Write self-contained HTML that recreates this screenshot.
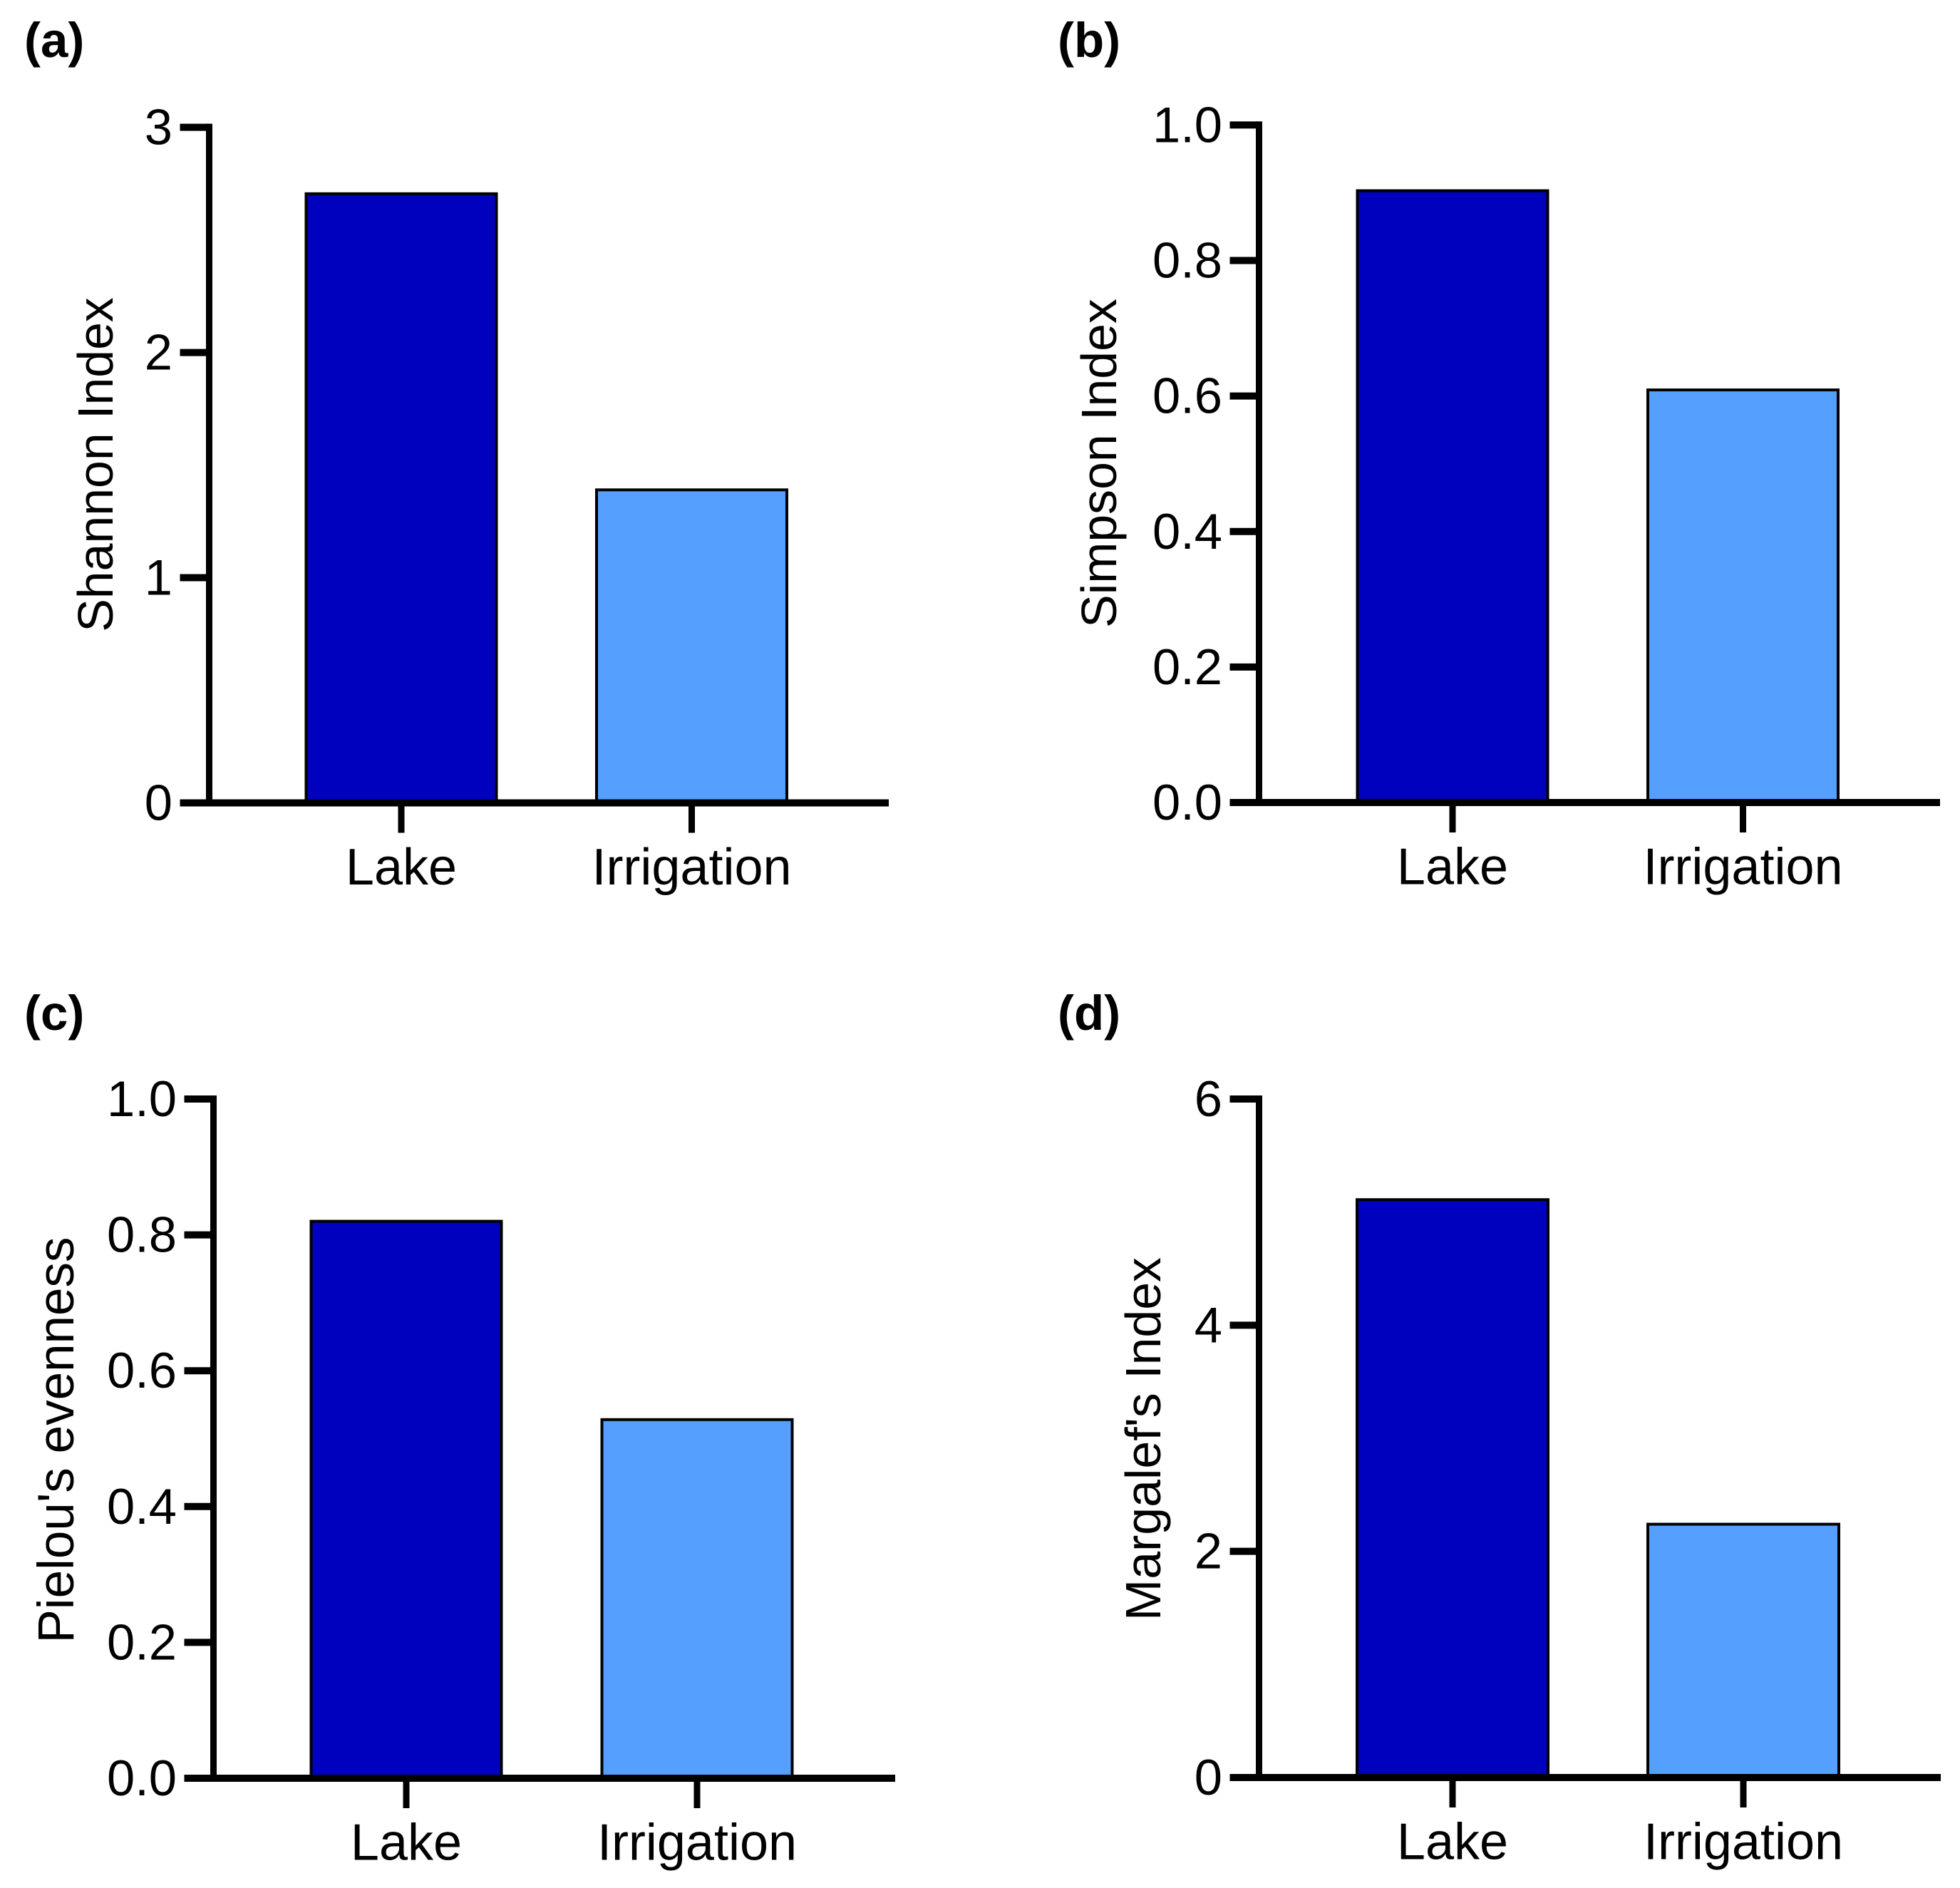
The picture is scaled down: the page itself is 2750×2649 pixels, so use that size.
<!DOCTYPE html>
<html lang="en">
<head>
<meta charset="utf-8">
<title>Diversity indices: Lake vs Irrigation</title>
<style>
html,body{margin:0;padding:0;background:#fff;}
svg{display:block;}
text{font-family:"Liberation Sans",Arial,sans-serif;fill:#000;}
.tick{font-size:70.5px;}
.cat{font-size:72px;}
.title{font-size:69.8px;text-anchor:middle;}
.panel{font-size:69px;font-weight:bold;}
</style>
</head>
<body>
<svg id="figure" xmlns="http://www.w3.org/2000/svg" width="2750" height="2649" viewBox="0 0 2750 2649">
  <rect x="0" y="0" width="2750" height="2649" fill="#ffffff"/>
  <g id="panel-a">
    <text class="panel" x="34" y="80">(a)</text>
    <text class="title" transform="translate(158 652) rotate(-90)">Shannon Index</text>
  </g>
  <g id="panel-b">
    <text class="panel" x="1484" y="80">(b)</text>
    <text class="title" transform="translate(1566 650) rotate(-90)">Simpson Index</text>
  </g>
  <g id="panel-c">
    <text class="panel" x="34" y="1445">(c)</text>
    <text class="title" style="font-size:71px" transform="translate(103 2020.5) rotate(-90)">Pielou's evenness</text>
  </g>
  <g id="panel-d">
    <text class="panel" x="1484" y="1445">(d)</text>
    <text class="title" transform="translate(1628 2019) rotate(-90)">Margalef's Index</text>
  </g>
</svg>
<script>
// Chart data
const categories = ['Lake', 'Irrigation'];
const shannonValues = [2.705, 1.39];
const simpsonValues = [0.903, 0.609];
const pielouValues = [0.82, 0.528];
const margalefValues = [5.11, 2.24];
const shannonTicks = ['0', '1', '2', '3'];
const simpsonTicks = ['0.0', '0.2', '0.4', '0.6', '0.8', '1.0'];
const pielouTicks = ['0.0', '0.2', '0.4', '0.6', '0.8', '1.0'];
const margalefTicks = ['0', '2', '4', '6'];
const barColors = ['#0000BF', '#559FFF'];

const NS = 'http://www.w3.org/2000/svg';

function shape(kind, parent, props) {
  const node = document.createElementNS(NS, kind);
  for (const key in props) node.setAttribute(key, props[key]);
  parent.appendChild(node);
  return node;
}

function drawPanel(id, values, ticks, frame) {
  const parent = document.getElementById(id);
  const tickValues = ticks.map(Number);
  const maxValue = tickValues[tickValues.length - 1];
  const yScale = function (v) {
    return frame.base - (v / maxValue) * (frame.base - frame.top);
  };
  const xScale = function (i) {
    return frame.firstCenter + i * frame.step;
  };

  // Bars
  values.forEach(function (value, i) {
    const y = yScale(value);
    const bar = shape('rect', parent, {
      x: xScale(i) - frame.barWidth / 2,
      y: y,
      width: frame.barWidth,
      height: frame.base - y,
      fill: barColors[i],
      stroke: '#000',
      'stroke-width': 4
    });
    
    
  });

  // Y axis line
  const yAxis = shape('line', parent, {
    x1: frame.axisX, x2: frame.axisX,
    y1: frame.top - 5, y2: frame.base,
    stroke: '#000', 'stroke-width': 9
  });
  
  

  // X axis line
  const xAxis = shape('line', parent, {
    x1: frame.axisX - 41, x2: frame.right,
    y1: frame.base, y2: frame.base,
    stroke: '#000', 'stroke-width': 10
  });
  
  

  // Y ticks and labels
  ticks.forEach(function (label, i) {
    const y = yScale(tickValues[i]);
    const mark = shape('line', parent, {
      x1: frame.axisX - 41, x2: frame.axisX,
      y1: y, y2: y,
      stroke: '#000', 'stroke-width': 10
    });
    
    
    const text = shape('text', parent, {
      class: 'tick',
      x: frame.axisX - 51.5,
      y: y + 24,
      'text-anchor': 'end'
    });
    
    
    text.textContent = label;
  });

  // X ticks and labels
  categories.forEach(function (label, i) {
    const x = xScale(i);
    const mark = shape('line', parent, {
      x1: x, x2: x,
      y1: frame.base, y2: frame.base + 42,
      stroke: '#000', 'stroke-width': 9
    });
    
    
    const text = shape('text', parent, {
      class: 'cat',
      x: x,
      y: frame.base + 114.5,
      'text-anchor': 'middle'
    });
    
    
    text.textContent = label;
  });
}

drawPanel('panel-a', shannonValues, shannonTicks,
  {axisX: 293.5, top: 178.6, base: 1126.5, right: 1247, firstCenter: 563, step: 407.5, barWidth: 267});
drawPanel('panel-b', simpsonValues, simpsonTicks,
  {axisX: 1766.5, top: 175.4, base: 1126, right: 2722, firstCenter: 2038, step: 407.5, barWidth: 267});
drawPanel('panel-c', pielouValues, pielouTicks,
  {axisX: 299.5, top: 1542, base: 2495, right: 1256, firstCenter: 570, step: 408, barWidth: 267});
drawPanel('panel-d', margalefValues, margalefTicks,
  {axisX: 1766.5, top: 1542, base: 2494, right: 2723, firstCenter: 2038, step: 408, barWidth: 268});
</script>
</body>
</html>
